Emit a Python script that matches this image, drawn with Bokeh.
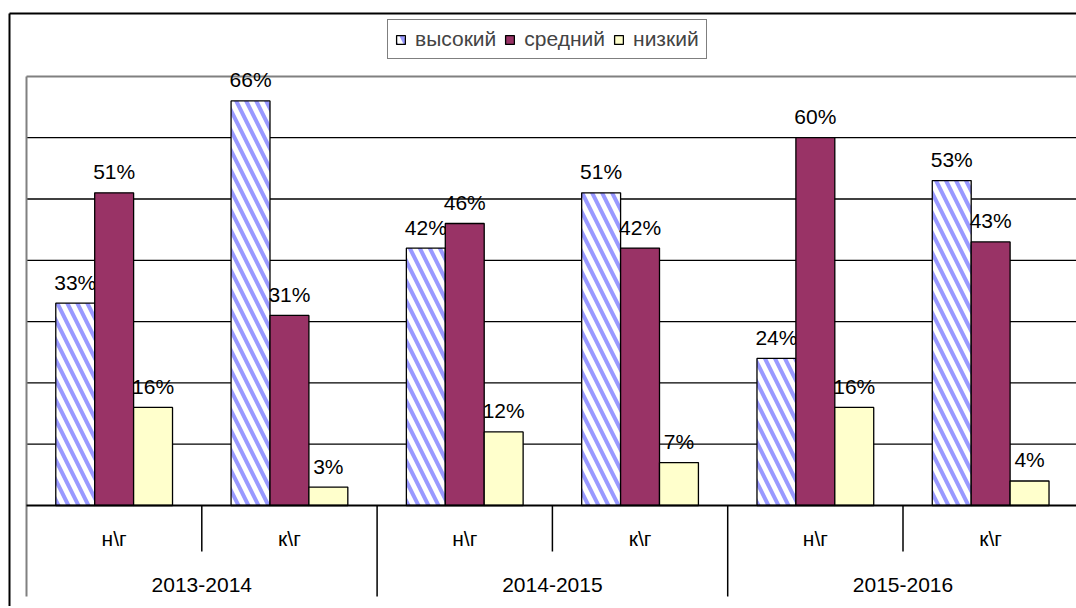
from bokeh.plotting import figure
from bokeh.models import Range1d, Legend, LegendItem
from bokeh.core.properties import value
from bokeh.embed import file_html
from bokeh.resources import INLINE

# ---- data ----
years = ["2013-2014", "2014-2015", "2015-2016"]
periods = ["н\\г", "к\\г"]
series_names = ["высокий", "средний", "низкий"]
high = [33, 66, 42, 51, 24, 53]
mid = [51, 31, 46, 42, 60, 43]
low = [16, 3, 12, 7, 16, 4]
grid_values = [10, 20, 30, 40, 50, 60]
y_max = 70

# ---- layout helpers (page pixels -> data units) ----
CAT = 175.3      # px per category
PX_Y = 6.13      # px per percent
X0 = 26          # plot-area left edge on page
Y0 = 505         # baseline on page
FIG_L, FIG_T, W, H = 0, 0, 1076, 606
FONT = value("Liberation Sans")


def dx(px):
    return (px - X0) / CAT


def dy(py):
    return (Y0 - py) / PX_Y


p = figure(width=W, height=H,
           x_range=Range1d(dx(FIG_L), dx(FIG_L + W)),
           y_range=Range1d(dy(FIG_T + H), dy(FIG_T)),
           x_axis_location=None, y_axis_location=None,
           min_border=0, output_backend="svg", toolbar_location=None, tools="")
p.outline_line_color = None
p.grid.visible = False
p.background_fill_color = "white"
p.border_fill_color = "white"

n_cat = len(high)
cats = [(y, per) for y in years for per in periods]
xc = [i + 0.5 for i in range(n_cat)]

# gridlines
p.segment(x0=[0] * len(grid_values), x1=[n_cat] * len(grid_values),
          y0=grid_values, y1=grid_values, line_color="black", line_width=1.3)
# top border of plot area
p.segment(x0=[0], x1=[n_cat], y0=[y_max], y1=[y_max], line_color="#808080", line_width=2)
# left axis line
p.segment(x0=[0], x1=[0], y0=[y_max], y1=[dy(596)], line_color="#808080", line_width=2)

# category separators
sep_x = list(range(1, n_cat + 1))
sep_end = [dy(551) if i % len(periods) else dy(596) for i in sep_x]
p.segment(x0=sep_x, x1=sep_x, y0=[0] * len(sep_x), y1=sep_end, line_color="black", line_width=1.5)

# outer chart border (left and top)
p.segment(x0=[dx(9), dx(9)], x1=[dx(9), dx(1090)], y0=[dy(13), dy(13)], y1=[dy(640), dy(13)],
          line_color="black", line_width=2)

pitch = 0.222
bw = 0.222
series = [high, mid, low]
offs = [-pitch, 0, pitch]
styles = [
    dict(fill_color="white", hatch_pattern="\\", hatch_color="#9999FF", hatch_weight=4, hatch_scale=20),
    dict(fill_color="#993366"),
    dict(fill_color="#FFFFCC"),
]
renderers = []
for vals, off, st in zip(series, offs, styles):
    xs = [x + off for x in xc]
    r = p.vbar(x=xs, top=vals, bottom=0, width=bw, line_color="black", line_width=1.3, **st)
    renderers.append(r)
    p.text(x=xs, y=vals, text=[f"{v}%" for v in vals], text_align="center",
           text_baseline="alphabetic", y_offset=-21, text_font=FONT,
           text_font_size="21px", text_color="black")

# baseline
p.segment(x0=[0], x1=[n_cat], y0=[0], y1=[0], line_color="black", line_width=2)

# category labels
p.text(x=xc, y=[dy(538)] * n_cat, text=[c[1] for c in cats], text_align="center",
       text_baseline="alphabetic", text_font=FONT, text_font_size="21px", text_color="black")
year_x = [len(periods) * j + len(periods) / 2 for j in range(len(years))]
p.text(x=year_x, y=[dy(584)] * len(years), text=years, text_align="center",
       text_baseline="alphabetic", text_font=FONT, text_font_size="21px", text_color="black")

legend = Legend(items=[LegendItem(label=n, renderers=[r]) for n, r in zip(series_names, renderers)],
                orientation="horizontal", location=(387, H - 59))
legend.border_line_color = "black"
legend.border_line_width = 1
legend.background_fill_color = "white"
legend.background_fill_alpha = 1
legend.label_text_font = "Liberation Sans"
legend.label_text_font_size = "21px"
legend.glyph_width = 11
legend.glyph_height = 11
legend.padding = 7
legend.spacing = 8
legend.label_standoff = 9
legend.margin = 0
p.add_layout(legend)

open("out.html", "w").write(file_html(p, INLINE))
